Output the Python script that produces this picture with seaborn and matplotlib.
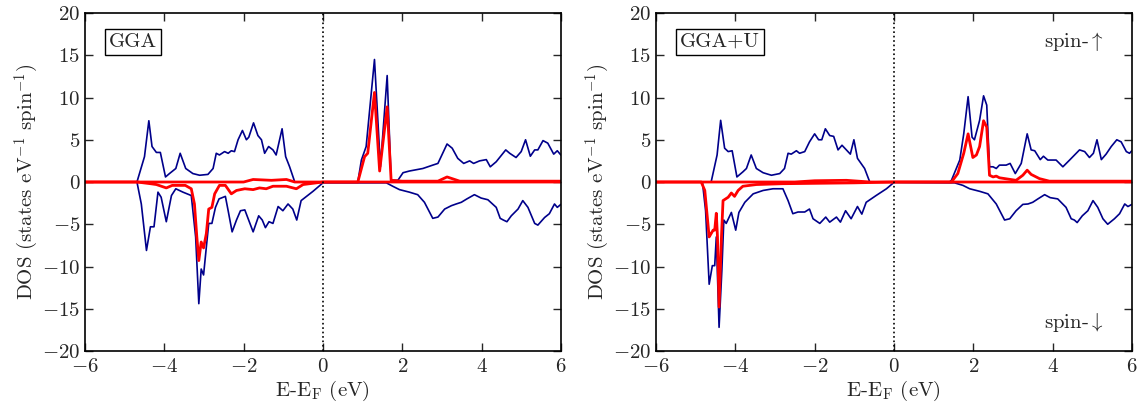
import numpy as np
import pandas as pd
import matplotlib
matplotlib.use("Agg")
import matplotlib.pyplot as plt
import seaborn as sns

# ---- GGA panel: total DOS (blue) and partial DOS (red), spin up / spin down ----
gga_tot_up_e = [-6.0, -4.69, -4.50, -4.39, -4.31, -4.20, -4.10, -3.97, -3.87, -3.71, -3.60, -3.46,
                -3.28, -3.11, -2.90, -2.77, -2.69, -2.61, -2.48, -2.39, -2.31, -2.23, -2.14, -2.03,
                -1.93, -1.87, -1.75, -1.64, -1.55, -1.47, -1.37, -1.26, -1.18, -1.03, -0.94, -0.84,
                -0.71, 0.88, 0.97, 1.09, 1.30, 1.45, 1.62, 1.72, 1.89, 2.02, 2.18, 2.52, 2.77, 2.90,
                3.13, 3.26, 3.40, 3.55, 3.70, 3.80, 3.95, 4.12, 4.22, 4.37, 4.61, 4.71, 4.87, 5.00,
                5.11, 5.23, 5.34, 5.42, 5.55, 5.67, 5.82, 5.91, 6.0]
gga_tot_up = [0.0, 0.0, 3.0, 7.25, 4.2, 3.5, 3.5, 0.6, 1.0, 1.6, 3.4, 1.6,
              1.0, 0.8, 0.9, 1.6, 3.4, 3.2, 3.6, 3.4, 3.7, 3.6, 5.0, 6.1,
              5.0, 5.3, 7.0, 5.5, 5.0, 3.4, 4.2, 3.8, 3.2, 6.3, 3.0, 1.8,
              0.0, 0.0, 2.6, 4.2, 14.5, 1.8, 12.6, 0.2, 0.2, 1.1, 1.3, 1.6, 2.0, 2.2,
              4.5, 4.0, 2.8, 2.2, 2.5, 2.2, 2.5, 2.65, 1.8, 2.4, 3.8, 3.4, 2.9, 3.6,
              5.0, 3.05, 3.8, 3.8, 4.9, 4.6, 3.3, 3.7, 3.2]

gga_tot_dn_e = [-6.0, -4.69, -4.58, -4.45, -4.35, -4.26, -4.16, -4.08, -3.95, -3.82, -3.71, -3.53,
                -3.32, -3.21, -3.13, -3.07, -3.01, -2.94, -2.88, -2.80, -2.71, -2.62, -2.46, -2.39,
                -2.29, -2.18, -2.08, -1.97, -1.76, -1.62, -1.53, -1.45, -1.36, -1.26, -1.13, -1.01,
                -0.88, -0.76, -0.66, -0.55, -0.25, 0.0, 1.60, 1.76, 1.93, 2.18, 2.39, 2.56, 2.77,
                2.90, 3.07, 3.24, 3.36, 3.49, 3.63, 3.82, 3.99, 4.16, 4.37, 4.47, 4.55, 4.64, 4.75,
                4.92, 5.04, 5.17, 5.34, 5.42, 5.59, 5.71, 5.84, 5.91, 6.0]
gga_tot_dn = [0.0, 0.0, -2.6, -8.1, -5.3, -5.3, -1.2, -1.8, -4.7, -1.6, -0.8, -1.2,
              -1.6, -6.5, -14.4, -10.3, -11.0, -7.7, -4.9, -4.9, -3.0, -2.0, -1.7, -3.4,
              -5.9, -4.5, -3.4, -3.3, -5.9, -4.0, -4.5, -5.4, -4.7, -4.9, -2.9, -3.4,
              -2.6, -3.2, -4.5, -2.2, -1.1, -0.1, -0.1, -0.5, -0.9, -1.2, -1.5, -2.4, -4.3,
              -4.15, -3.2, -2.8, -2.6, -2.4, -2.0, -1.5, -1.9, -2.1, -3.0, -4.3, -4.5, -4.7, -4.0,
              -3.2, -2.2, -3.0, -4.9, -5.1, -4.2, -3.75, -2.6, -3.0, -2.65]

gga_p_up_e = [-6.0, -2.0, -1.76, -1.3, -0.92, -0.71, 0.88, 1.05, 1.13, 1.30, 1.43, 1.62, 1.72,
              2.0, 2.9, 3.13, 3.45, 6.0]
gga_p_up = [0.0, 0.0, 0.3, 0.2, 0.3, 0.0, 0.0, 3.0, 3.4, 10.6, 1.3, 8.9, 0.2,
            0.1, 0.1, 0.6, 0.1, 0.1]

gga_p_dn_e = [-6.0, -4.69, -4.35, -4.20, -3.95, -3.80, -3.47, -3.32, -3.24, -3.18, -3.13, -3.07,
              -3.01, -2.94, -2.88, -2.80, -2.73, -2.61, -2.46, -2.31, -2.18, -1.97, -1.76, -1.60,
              -1.43, -1.26, -0.92, -0.67, -0.50, 0.0, 6.0]
gga_p_dn = [0.0, 0.0, -0.2, -0.3, -0.7, -0.4, -0.4, -0.8, -2.6, -6.5, -9.3, -7.1,
            -7.8, -6.1, -3.2, -3.0, -1.4, -0.4, -0.4, -1.4, -1.0, -0.8, -0.9, -0.7,
            -0.8, -0.5, -0.5, -0.8, -0.3, 0.0, 0.0]

# ---- GGA+U panel ----
ggau_tot_up_e = [-6.0, -4.61, -4.46, -4.37, -4.27, -4.18, -4.08, -3.96, -3.81, -3.72, -3.60, -3.47,
                 -3.30, -3.09, -2.88, -2.76, -2.67, -2.59, -2.46, -2.38, -2.25, -2.13, -2.00, -1.90,
                 -1.82, -1.73, -1.62, -1.52, -1.41, -1.31, -1.20, -1.10, -1.01, -0.92, -0.74, -0.61,
                 1.40, 1.45, 1.66, 1.76, 1.87, 1.97, 2.03, 2.16, 2.26, 2.34, 2.41, 2.50, 2.58, 2.66,
                 2.83, 2.93, 3.06, 3.21, 3.36, 3.46, 3.55, 3.69, 3.77, 3.88, 4.09, 4.26, 4.43, 4.68,
                 4.81, 4.93, 5.03, 5.12, 5.23, 5.35, 5.48, 5.62, 5.73, 5.86, 5.94, 6.0]
ggau_tot_up = [0.0, 0.0, 3.2, 7.3, 4.0, 3.6, 3.7, 0.6, 1.2, 1.6, 3.2, 1.6,
               1.1, 0.8, 1.0, 1.6, 3.4, 3.3, 3.7, 3.4, 3.6, 4.75, 5.7, 5.0,
               5.0, 6.3, 5.5, 5.4, 3.8, 4.35, 3.8, 3.3, 5.0, 2.8, 1.6, 0.0,
               0.0, 0.2, 2.6, 5.7, 10.1, 5.3, 5.0, 7.3, 10.2, 9.1, 1.8, 1.8, 1.6, 2.0,
               2.0, 2.2, 1.0, 2.2, 5.7, 3.8, 3.7, 2.65, 3.05, 2.6, 2.6, 1.8, 2.6, 3.8,
               3.6, 2.9, 3.4, 5.0, 2.65, 3.3, 4.2, 5.0, 4.75, 3.6, 3.4, 3.7]

ggau_tot_dn_e = [-6.0, -4.83, -4.75, -4.66, -4.58, -4.52, -4.48, -4.41, -4.34, -4.29, -4.23, -4.10,
                 -3.99, -3.91, -3.76, -3.55, -3.30, -3.05, -2.80, -2.67, -2.55, -2.42, -2.25, -2.13,
                 -2.04, -1.87, -1.72, -1.62, -1.45, -1.35, -1.22, -1.08, -0.92, -0.81, -0.70, -0.45,
                 -0.19, 0.0, 1.53, 1.74, 1.91, 2.16, 2.37, 2.58, 2.79, 2.92, 3.08, 3.25, 3.38, 3.50,
                 3.63, 3.80, 3.94, 4.13, 4.34, 4.47, 4.55, 4.62, 4.75, 4.89, 5.02, 5.14, 5.27, 5.39,
                 5.56, 5.69, 5.82, 5.90, 6.0]
ggau_tot_dn = [0.0, 0.0, -3.4, -12.1, -9.9, -9.9, -6.5, -17.2, -10.5, -4.5, -4.9, -3.6,
               -5.7, -3.6, -2.4, -1.4, -1.0, -0.8, -0.8, -2.2, -3.75, -3.55, -3.55, -3.2,
               -4.35, -4.9, -4.15, -4.75, -4.15, -4.75, -3.4, -4.35, -2.9, -3.8, -2.4, -1.6,
               -0.8, -0.05, -0.1, -0.4, -0.8, -1.1, -1.4, -2.6, -4.5, -4.35, -3.4, -2.65, -2.6, -2.4,
               -2.0, -1.5, -1.85, -2.0, -3.0, -4.35, -4.5, -4.8, -4.0, -3.4, -2.2, -3.0, -4.35, -5.0,
               -4.35, -3.75, -2.6, -2.9, -2.65]

ggau_p_up_e = [-6.0, -2.5, -2.0, -1.2, -0.6, 1.45, 1.61, 1.76, 1.87, 1.99, 2.08, 2.16, 2.26, 2.34,
               2.41, 2.50, 2.58, 2.66, 3.08, 3.25, 3.36, 3.46, 3.67, 3.92, 6.0]
ggau_p_up = [0.0, 0.0, 0.15, 0.2, 0.0, 0.0, 1.0, 3.4, 5.7, 2.9, 3.2, 4.2, 7.25, 6.5,
             0.8, 0.6, 0.7, 0.5, 0.2, 0.8, 1.4, 0.9, 0.4, 0.1, 0.1]

ggau_p_dn_e = [-6.0, -4.86, -4.77, -4.66, -4.61, -4.56, -4.52, -4.48, -4.45, -4.41, -4.35, -4.31,
               -4.18, -4.10, -4.02, -3.93, -3.81, -3.47, -2.80, -1.0, 0.0, 6.0]
ggau_p_dn = [0.0, 0.0, -1.0, -6.5, -6.1, -5.7, -5.7, -3.7, -6.5, -14.8, -6.5, -2.2,
             -1.8, -1.3, -1.7, -1.0, -0.5, -0.3, -0.2, -0.1, 0.0, 0.0]

panels = [
    ("GGA", (gga_tot_up_e, gga_tot_up), (gga_tot_dn_e, gga_tot_dn),
     (gga_p_up_e, gga_p_up), (gga_p_dn_e, gga_p_dn)),
    ("GGA+U", (ggau_tot_up_e, ggau_tot_up), (ggau_tot_dn_e, ggau_tot_dn),
     (ggau_p_up_e, ggau_p_up), (ggau_p_dn_e, ggau_p_dn)),
]

sns.set_style("ticks")
plt.rcParams["font.family"] = "serif"
plt.rcParams["font.serif"] = ["cmr10"]
plt.rcParams["mathtext.fontset"] = "cm"
plt.rcParams["axes.formatter.use_mathtext"] = True
plt.rcParams["axes.unicode_minus"] = True

fig, axes = plt.subplots(1, 2, figsize=(11.41, 4.07), dpi=100)
fig.subplots_adjust(left=0.0745, right=0.992, top=0.968, bottom=0.1376, wspace=0.2)

for ax, (name, tup, tdn, pup, pdn) in zip(axes, panels):
    for e, d in (tup, tdn):
        sns.lineplot(x=e, y=d, ax=ax, color="#00008b", lw=1.2, sort=False, estimator=None)
    for e, d in (pup, pdn):
        sns.lineplot(x=e, y=d, ax=ax, color="red", lw=2.0, sort=False, estimator=None)
    ax.axvline(0, color="black", ls=":", lw=1.2)
    ax.set_xlim(-6, 6)
    ax.set_ylim(-20, 20)
    ax.set_xticks(np.arange(-6, 7, 2))
    ax.set_yticks(np.arange(-20, 21, 5))
    ax.tick_params(direction="in", top=True, right=True, length=6, width=1, labelsize=15)
    ax.tick_params(axis="x", pad=5)
    for s in ax.spines.values():
        s.set_linewidth(1.2)
        s.set_color("black")
    ax.set_xlabel(r"E-E$_{\rm F}$ (eV)", fontsize=15, labelpad=2)
    ax.set_ylabel(r"DOS (states eV$^{-1}$ spin$^{-1}$)", fontsize=15, labelpad=1)
    ax.text(0.05, 0.915, name, transform=ax.transAxes, fontsize=15, va="center", ha="left",
            bbox=dict(boxstyle="square,pad=0.2", fc="white", ec="black", lw=1))

axes[1].text(0.94, 0.915, r"spin-$\uparrow$", transform=axes[1].transAxes,
             fontsize=15, ha="right", va="center")
axes[1].text(0.94, 0.085, r"spin-$\downarrow$", transform=axes[1].transAxes,
             fontsize=15, ha="right", va="center")

fig.savefig("out.png", dpi=100)
